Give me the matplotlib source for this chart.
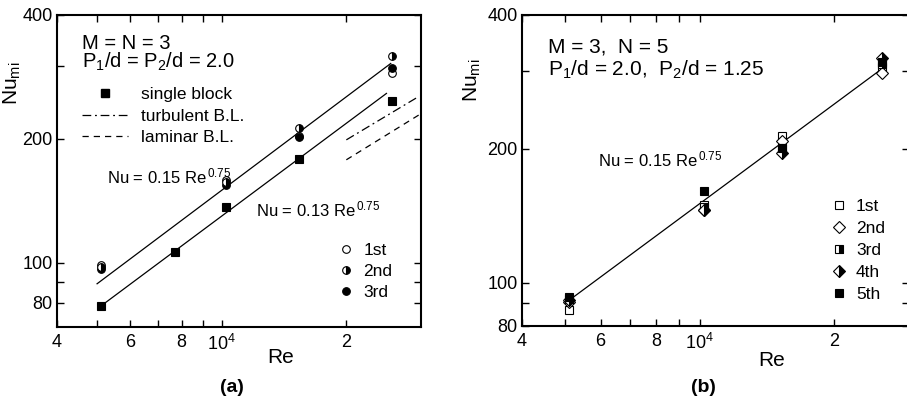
import numpy as np
import matplotlib.pyplot as plt
from matplotlib.lines import Line2D
from matplotlib.ticker import NullLocator

plt.rcParams['font.family'] = ['Liberation Sans', 'DejaVu Sans']
plt.rcParams['mathtext.fontset'] = 'custom'
plt.rcParams['mathtext.rm'] = 'Liberation Sans'
plt.rcParams['mathtext.it'] = 'Liberation Sans:italic'
plt.rcParams['mathtext.bf'] = 'Liberation Sans:bold'

# ---- panel (a): M = N = 3 ----
re_blk = [5100, 7700, 10240, 15400, 25800]
nu_blk = [78.8, 106.4, 136.4, 178.4, 247]
re_a = [5100, 10240, 15400, 25800]
nu_a1 = [98.8, 159, 203, 290]
nu_a2 = [97.5, 157, 213, 318]
nu_a3 = [96.5, 155, 202, 297]
fit_a_re = [5000, 25600]
fit_a_nu = [89, 305]
fit_blk_re = [5100, 25000]
fit_blk_nu = [78.5, 258]
turb_re = [20000, 30000]
turb_nu = [199, 254]
lam_re = [20000, 30000]
lam_nu = [178, 229]

# ---- panel (b): M = 3, N = 5 ----
re_b = [5110, 10220, 15260, 25640]
nu_b1 = [87, 150, 214, 306]
nu_b2 = [90.5, 145.5, 208, 296]
nu_b3 = [92, 148, 201, 310]
nu_b4 = [91.5, 146, 195.5, 320]
nu_b5 = [93, 160.5, 200.5, 314]
fit_b_re = [5110, 25640]
fit_b_nu = [91.5, 303]

xticks = [4000, 5000, 6000, 7000, 8000, 9000, 10000, 20000]
xticklabels = ['4', '', '6', '', '8', '', '$10^4$', '2']
yticks = [80, 90, 100, 200, 300, 400]
yticklabels = ['80', '', '100', '200', '', '400']

fig = plt.figure(figsize=(9.07, 4.04), dpi=100)
ax1 = fig.add_axes([0.0628, 0.1913, 0.4014, 0.7716])
ax2 = fig.add_axes([0.5755, 0.1931, 0.4270, 0.7698])


def style(ax, ylim, xlim):
    ax.set_xscale('log')
    ax.set_yscale('log')
    ax.set_xlim(xlim)
    ax.set_ylim(ylim)
    ax.xaxis.set_minor_locator(NullLocator())
    ax.yaxis.set_minor_locator(NullLocator())
    ax.set_xticks(xticks, xticklabels)
    ax.set_yticks(yticks, yticklabels)
    ax.tick_params(direction='in', top=True, right=True, length=5,
                   width=1.0, labelsize=13)
    ax.tick_params(axis='x', pad=5)
    ax.tick_params(axis='y', pad=3)
    for s in ax.spines.values():
        s.set_linewidth(1.5)


lw = 0.9
ms = 5.5

# panel (a)
style(ax1, (70, 400), (4000, 30300))
ax1.plot(fit_a_re, fit_a_nu, 'k-', lw=lw)
ax1.plot(fit_blk_re, fit_blk_nu, 'k-', lw=lw)
ax1.plot(turb_re, turb_nu, 'k-.', lw=lw, dashes=(7, 3, 1.5, 3))
ax1.plot(lam_re, lam_nu, 'k--', lw=lw, dashes=(5, 4))
ax1.plot(re_blk, nu_blk, 'ks', ms=ms, mew=0.8)
kw = dict(ls='none', ms=ms, mec='k', mew=0.8)
ax1.plot(re_a, nu_a1, marker='o', mfc='white', **kw)
ax1.plot(re_a, nu_a3, marker='o', mfc='k', **kw)
ax1.plot(re_a, nu_a2, marker='o', mfc='k', fillstyle='right',
         markerfacecoloralt='white', **kw)

ax1.set_xlabel('Re', fontsize=15)
ax1.xaxis.set_label_coords(0.615, -0.068)
ax1.set_ylabel(r'Nu$_{\mathrm{mi}}$', fontsize=15)
ax1.yaxis.set_label_coords(-0.093, 0.78)

ax1.text(0.069, 0.91, 'M = N = 3', transform=ax1.transAxes, fontsize=14.5,
         va='center')
ax1.text(0.069, 0.849, 'P$_1$/d = P$_2$/d = 2.0', transform=ax1.transAxes,
         fontsize=14.5, va='center')
ax1.text(0.137, 0.483, r'Nu = 0.15 Re$^{\,0.75}$', transform=ax1.transAxes,
         fontsize=12, va='center')
ax1.text(0.547, 0.377, r'Nu = 0.13 Re$^{\,0.75}$', transform=ax1.transAxes,
         fontsize=12, va='center')

h1 = [Line2D([], [], ls='none', marker='s', color='k', ms=ms),
      Line2D([], [], color='k', lw=lw, ls='-.', dashes=(7, 3, 1.5, 3)),
      Line2D([], [], color='k', lw=lw, ls='--', dashes=(5, 4))]
leg1 = ax1.legend(h1, ['single block', 'turbulent B.L.', 'laminar B.L.'],
                  loc='upper left', bbox_to_anchor=(0.07, 0.77),
                  frameon=False, fontsize=12.5, handlelength=2.6,
                  handletextpad=0.8, labelspacing=0.38, borderpad=0,
                  borderaxespad=0, numpoints=1)
ax1.add_artist(leg1)

h2 = [Line2D([], [], marker='o', mfc='white', **kw),
      Line2D([], [], marker='o', mfc='k', fillstyle='right',
             markerfacecoloralt='white', **kw),
      Line2D([], [], marker='o', mfc='k', **kw)]
ax1.legend(h2, ['1st', '2nd', '3rd'], loc='upper left',
           bbox_to_anchor=(0.775, 0.27), frameon=False, fontsize=12.5,
           handlelength=0.8, handletextpad=0.6, labelspacing=0.35,
           borderpad=0, borderaxespad=0, numpoints=1)

# panel (b)
style(ax2, (80, 400), (4000, 29500))
ax2.plot(fit_b_re, fit_b_nu, 'k-', lw=lw)
kb = dict(ls='none', mec='k', mew=0.8)
hb = [
    ax2.plot(re_b, nu_b1, marker='s', ms=5.5, mfc='white', **kb)[0],
    ax2.plot(re_b, nu_b2, marker='D', ms=6.5, mfc='white', **kb)[0],
    ax2.plot(re_b, nu_b3, marker='s', ms=5.5, mfc='k', fillstyle='right',
             markerfacecoloralt='white', **kb)[0],
    ax2.plot(re_b, nu_b4, marker='D', ms=6.5, mfc='k', fillstyle='right',
             markerfacecoloralt='white', **kb)[0],
    ax2.plot(re_b, nu_b5, marker='s', ms=5.5, mfc='k', **kb)[0],
]
ax2.legend(hb, ['1st', '2nd', '3rd', '4th', '5th'], loc='upper left',
           bbox_to_anchor=(0.8, 0.41), frameon=False, fontsize=12.5,
           handlelength=0.8, handletextpad=0.6, labelspacing=0.4,
           borderpad=0, borderaxespad=0, numpoints=1)

ax2.set_xlabel('Re', fontsize=15)
ax2.xaxis.set_label_coords(0.645, -0.079)
ax2.set_ylabel(r'Nu$_{\mathrm{mi}}$', fontsize=15)
ax2.yaxis.set_label_coords(-0.1, 0.79)

ax2.text(0.067, 0.898, 'M = 3,  N = 5', transform=ax2.transAxes,
         fontsize=15, va='center')
ax2.text(0.067, 0.823, 'P$_1$/d = 2.0,  P$_2$/d = 1.25',
         transform=ax2.transAxes, fontsize=15, va='center')
ax2.text(0.197, 0.534, r'Nu = 0.15 Re$^{\,0.75}$', transform=ax2.transAxes,
         fontsize=12, va='center')

fig.text(232 / 907, 1 - 387 / 404, '(a)', fontsize=14, fontweight='bold',
         ha='center', va='center')
fig.text(703 / 907, 1 - 387 / 404, '(b)', fontsize=14, fontweight='bold',
         ha='center', va='center')

fig.savefig('out.png', dpi=100)
